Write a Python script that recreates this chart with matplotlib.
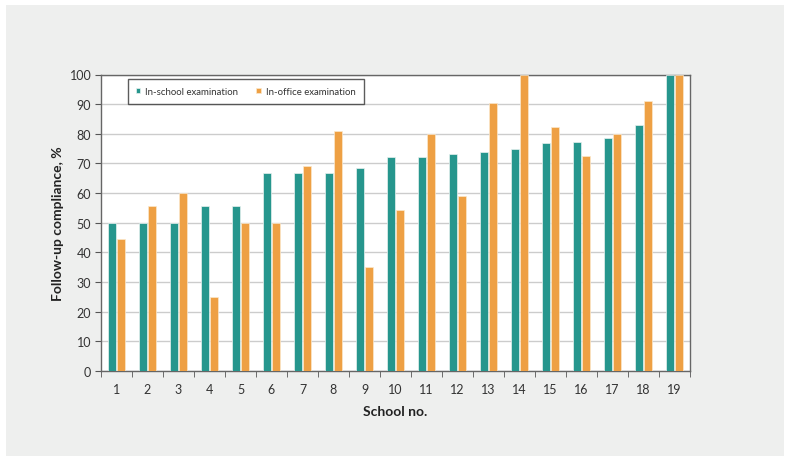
import matplotlib.pyplot as plt
import numpy as np

plt.rcParams['font.family'] = ['Lato', 'DejaVu Sans']

# Data
schools = [str(i) for i in range(1, 20)]
in_school = [50, 50, 50, 55.6, 55.6, 66.7, 66.7, 66.7, 68.6, 72.2,
             72.2, 73.1, 73.9, 74.9, 76.8, 77.2, 78.5, 83.1, 100]
in_office = [44.4, 55.6, 60, 25, 50, 50, 69.2, 81, 35.2, 54.3,
             80, 59, 90.5, 100, 82.2, 72.6, 80, 91, 100]

teal = '#26968d'
orange = '#eea044'

fig = plt.figure(figsize=(7.91, 4.64), dpi=100)
fig.patch.set_facecolor('white')
# gray panel behind the chart
fig.patches.append(plt.Rectangle((6/791, 7.3/464), 778/791, 450.7/464,
                                 transform=fig.transFigure, facecolor='#eeefee',
                                 edgecolor='none', zorder=-5))

ax = fig.add_axes([101/791, 1 - 372/464, 589/791, 296.5/464])
ax.set_facecolor('white')

x = np.arange(len(schools))
w = 0.25
ax.bar(x - w/2 - 0.01, in_school, w, color=teal, edgecolor='#e8f2f0', linewidth=0.5,
       label='In-school examination', zorder=3)
ax.bar(x + w/2 + 0.01, in_office, w, color=orange, edgecolor='#fbe8cc', linewidth=0.5,
       label='In-office examination', zorder=3)

ax.set_xlim(-0.5, len(schools) - 0.5)
ax.set_ylim(0, 100)
ax.set_yticks(range(0, 101, 10))
ax.yaxis.grid(True, color='#cccccc', linewidth=1, zorder=0)

# labels at category centers, ticks at boundaries
ax.set_xticks(x)
ax.set_xticklabels(schools)
ax.set_xticks(np.arange(-0.5, len(schools)), minor=True)
ax.tick_params(axis='x', which='major', length=0, pad=9, labelsize=9, labelcolor='#333333')
ax.tick_params(axis='x', which='minor', length=4, direction='out', color='#555555')
ax.tick_params(axis='y', length=4, direction='out', color='#555555', labelsize=9,
               labelcolor='#333333', pad=3)

for s in ax.spines.values():
    s.set_color('#666666')
    s.set_linewidth(1)

ax.set_xlabel('School no.', fontsize=10, fontweight='bold', color='#222222', labelpad=7)
ax.set_ylabel('Follow-up compliance, %', fontsize=10, fontweight='bold', color='#222222',
              labelpad=4)

leg = ax.legend(loc='upper left', bbox_to_anchor=(26.5/589, 1 - 4.5/296.5), ncol=2,
                fontsize=6.9, frameon=True, fancybox=False, edgecolor='#333333',
                handlelength=0.5, handleheight=0.5, handletextpad=0.5, columnspacing=1.9,
                borderpad=0.85, borderaxespad=0, labelcolor='#333333')
leg.get_frame().set_linewidth(1)

fig.savefig('out.png', dpi=100)
